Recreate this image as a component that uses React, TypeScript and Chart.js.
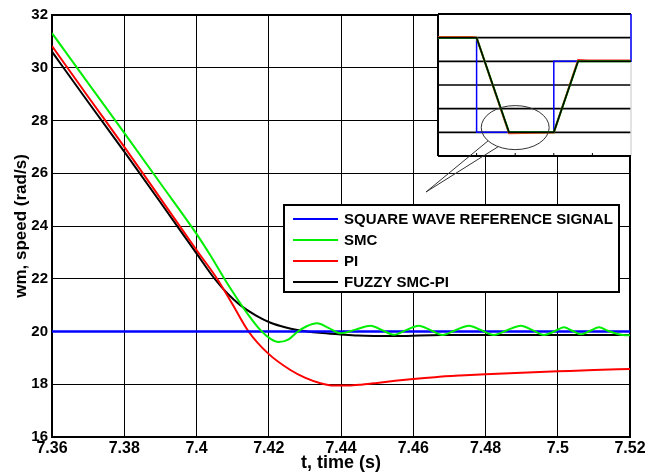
import React, { useEffect, useRef } from 'react';
import { Chart, registerables } from 'chart.js';

Chart.register(...registerables);

// ---------- main chart data ----------
const refTime = [7.36, 7.52];
const refSpeed = [20, 20];

const smcTime = [7.36, 7.37, 7.38, 7.39, 7.4, 7.404, 7.4075, 7.411, 7.4145, 7.4177, 7.4205, 7.4227, 7.4255, 7.4279, 7.4305, 7.4334, 7.4365, 7.4399, 7.444, 7.4482, 7.4514, 7.4546, 7.458, 7.4615, 7.4648, 7.4681, 7.4717, 7.4754, 7.4788, 7.4823, 7.486, 7.4898, 7.493, 7.4962, 7.499, 7.5017, 7.504, 7.5064, 7.509, 7.5114, 7.514, 7.518, 7.52];
const smcSpeed = [31.31, 29.42, 27.53, 25.62, 23.7, 22.85, 22.05, 21.3, 20.6, 20.05, 19.72, 19.6, 19.7, 19.98, 20.2, 20.31, 20.14, 19.93, 20.07, 20.22, 20.05, 19.88, 20.05, 20.22, 20.05, 19.87, 20.05, 20.22, 20.05, 19.87, 20.05, 20.22, 20.05, 19.87, 20.0, 20.16, 20.03, 19.9, 20.03, 20.16, 20.02, 19.87, 19.86];

const piTime = [7.36, 7.37, 7.38, 7.39, 7.4, 7.4057, 7.41, 7.4144, 7.4198, 7.426, 7.43, 7.4343, 7.438, 7.442, 7.446, 7.45, 7.455, 7.46, 7.466, 7.473, 7.48, 7.49, 7.5, 7.51, 7.52];
const piSpeed = [30.82, 28.9, 27.0, 25.05, 23.09, 22.0, 21.02, 20.0, 19.17, 18.54, 18.25, 18.04, 17.95, 17.95, 17.99, 18.05, 18.13, 18.2, 18.27, 18.33, 18.38, 18.44, 18.49, 18.54, 18.58];

const fuzzyTime = [7.36, 7.37, 7.38, 7.39, 7.4, 7.405, 7.4085, 7.4121, 7.4165, 7.4205, 7.4245, 7.4279, 7.434, 7.4399, 7.4446, 7.4557, 7.4676, 7.49, 7.52];
const fuzzySpeed = [30.61, 28.7, 26.82, 24.9, 22.96, 22.0, 21.45, 21.0, 20.6, 20.33, 20.16, 20.06, 19.95, 19.89, 19.85, 19.83, 19.87, 19.87, 19.87];

const seriesLabels = ['SQUARE WAVE REFERENCE SIGNAL', 'SMC', 'PI', 'FUZZY SMC-PI'];

const xTicks = [7.36, 7.38, 7.4, 7.42, 7.44, 7.46, 7.48, 7.5, 7.52];
const xTickLabels = ['7.36', '7.38', '7.4', '7.42', '7.44', '7.46', '7.48', '7.5', '7.52'];
const yTicks = [16, 18, 20, 22, 24, 26, 28, 30, 32];
const yTickLabels = ['16', '18', '20', '22', '24', '26', '28', '30', '32'];

// ---------- inset (zoomed detail) data ----------
const insetRefX = [0, 1, 1, 3, 3, 5, 5];
const insetRefY = [5, 5, 1, 1, 4, 4, 6];
const insetSmcX = [0, 1, 1.84, 3, 3.63, 5];
const insetSmcY = [5, 5, 1, 1, 4, 4];
const insetPiX = [0, 0.9, 1, 1.84, 2.2, 3, 3.63, 3.9, 5];
const insetPiY = [5.03, 5.03, 5.0, 0.96, 0.97, 0.99, 4.06, 4.04, 4.03];
const insetFuzzyX = [0, 1, 1.84, 3, 3.63, 5];
const insetFuzzyY = [5, 5, 1, 1, 4, 4];
const insetGridY = [1, 2, 3, 4, 5];
const insetTickX = [1, 2, 3, 4];
const insetEllipse = { x: 2.0, y: 1.2, rx: 0.88, ry: 0.93 };
const insetCalloutTip = { x: -0.31, y: -1.52 };
const insetCalloutAngles = [143, 120];

const FONT = "'Liberation Sans', Arial, Helvetica, sans-serif";

const pts = (xs: number[], ys: number[]) => xs.map((x, i) => ({ x, y: ys[i] }));

const boxLegend = {
  id: 'boxLegend',
  afterDatasetsDraw(chart: any) {
    const { ctx, chartArea: a } = chart;
    const left = a.left + 232;
    const top = a.top + 190;
    const w = 335;
    const h = 87;
    ctx.save();
    ctx.fillStyle = '#fff';
    ctx.fillRect(left, top, w, h);
    ctx.strokeStyle = '#000';
    ctx.lineWidth = 2;
    ctx.strokeRect(left, top, w, h);
    ctx.font = `bold 15px ${FONT}`;
    ctx.textBaseline = 'middle';
    ctx.textAlign = 'left';
    chart.data.datasets.forEach((ds: any, i: number) => {
      const ry = top + 14 + i * 21;
      ctx.strokeStyle = ds.borderColor;
      ctx.lineWidth = 2;
      ctx.beginPath();
      ctx.moveTo(left + 9, ry);
      ctx.lineTo(left + 54, ry);
      ctx.stroke();
      ctx.fillStyle = '#000';
      ctx.fillText(ds.label, left + 60, ry + 1);
    });
    ctx.restore();
  },
};

const insetFrame = {
  id: 'insetFrame',
  beforeDatasetsDraw(chart: any) {
    const { ctx, chartArea: a, scales } = chart;
    const xs = scales.x;
    const ys = scales.y;
    const line = (x1: number, y1: number, x2: number, y2: number) => {
      ctx.beginPath();
      ctx.moveTo(x1, y1);
      ctx.lineTo(x2, y2);
      ctx.stroke();
    };
    ctx.save();
    ctx.fillStyle = '#fff';
    ctx.fillRect(a.left, a.top, a.right - a.left, a.bottom - a.top);
    ctx.strokeStyle = '#000';
    ctx.lineWidth = 1.6;
    insetGridY.forEach((v) => {
      const py = ys.getPixelForValue(v);
      line(a.left, py, a.right, py);
    });
    ctx.lineWidth = 1;
    insetTickX.forEach((v) => {
      const px = xs.getPixelForValue(v);
      line(px, a.bottom, px, a.bottom - 3);
    });
    ctx.strokeStyle = '#d8d8d8';
    ctx.lineWidth = 1.5;
    line(a.right, a.top, a.right, a.bottom);
    ctx.strokeStyle = '#000';
    ctx.lineWidth = 2;
    line(a.left, a.top, a.left, a.bottom);
    line(a.left, a.bottom, a.right, a.bottom);
    line(a.left, a.top, a.right, a.top);
    ctx.restore();
  },
  afterDatasetsDraw(chart: any) {
    const { ctx, scales } = chart;
    const xs = scales.x;
    const ys = scales.y;
    const cx = xs.getPixelForValue(insetEllipse.x);
    const cy = ys.getPixelForValue(insetEllipse.y);
    const rx = Math.abs(xs.getPixelForValue(insetEllipse.x + insetEllipse.rx) - cx);
    const ry = Math.abs(ys.getPixelForValue(insetEllipse.y + insetEllipse.ry) - cy);
    const tx = xs.getPixelForValue(insetCalloutTip.x);
    const ty = ys.getPixelForValue(insetCalloutTip.y);
    ctx.save();
    ctx.strokeStyle = '#333';
    ctx.lineWidth = 1;
    ctx.beginPath();
    ctx.ellipse(cx, cy, rx, ry, 0, 0, Math.PI * 2);
    ctx.stroke();
    insetCalloutAngles.forEach((deg) => {
      const r = (deg * Math.PI) / 180;
      ctx.beginPath();
      ctx.moveTo(cx + rx * Math.cos(r), cy + ry * Math.sin(r));
      ctx.lineTo(tx, ty);
      ctx.stroke();
    });
    ctx.restore();
  },
};

export default function App() {
  const mainRef = useRef<HTMLCanvasElement>(null);
  const insetRef = useRef<HTMLCanvasElement>(null);

  useEffect(() => {
    document.body.style.margin = '0';
    Chart.defaults.color = '#000';
    const edgeWidth = (n: number) => (c: any) => (c.index === 0 || c.index === n - 1 ? 2 : 1);

    const main = new Chart(mainRef.current as HTMLCanvasElement, {
      type: 'line',
      data: {
        datasets: [
          { label: seriesLabels[0], data: pts(refTime, refSpeed), borderColor: '#0000ff', borderWidth: 2.5, order: 1 },
          { label: seriesLabels[1], data: pts(smcTime, smcSpeed), borderColor: '#00ee00', borderWidth: 2, order: 0, cubicInterpolationMode: 'monotone' },
          { label: seriesLabels[2], data: pts(piTime, piSpeed), borderColor: '#ff0000', borderWidth: 2, order: 2, cubicInterpolationMode: 'monotone' },
          { label: seriesLabels[3], data: pts(fuzzyTime, fuzzySpeed), borderColor: '#000000', borderWidth: 2, order: 3, cubicInterpolationMode: 'monotone' },
        ] as any,
      },
      options: {
        animation: false,
        responsive: false,
        maintainAspectRatio: false,
        layout: { padding: { left: 0, right: 32, top: 15, bottom: 0 } },
        elements: { point: { radius: 0 } },
        plugins: { legend: { display: false }, tooltip: { enabled: false } },
        scales: {
          x: {
            type: 'linear',
            min: 7.36,
            max: 7.52,
            afterBuildTicks: (s: any) => {
              s.ticks = xTicks.map((v) => ({ value: v }));
            },
            afterFit: (s: any) => {
              s.height = 35;
            },
            ticks: {
              callback: (_v: any, i: number) => xTickLabels[i],
              color: '#000',
              font: { family: FONT, size: 16, weight: 'bold' },
              padding: 2,
              maxRotation: 0,
              autoSkip: false,
            },
            grid: { color: '#000', lineWidth: edgeWidth(xTicks.length), drawTicks: false },
            border: { display: true, color: '#000', width: 2 },
            title: {
              display: true,
              text: 't, time (s)',
              color: '#000',
              font: { family: FONT, size: 18, weight: 'bold', lineHeight: 1 },
              padding: 0,
            },
          },
          y: {
            type: 'linear',
            min: 16,
            max: 32,
            afterBuildTicks: (s: any) => {
              s.ticks = yTicks.map((v) => ({ value: v }));
            },
            afterFit: (s: any) => {
              s.width = 52;
            },
            ticks: {
              callback: (_v: any, i: number) => yTickLabels[i],
              color: '#000',
              font: { family: FONT, size: 15, weight: 'bold' },
              padding: 4,
              autoSkip: false,
            },
            grid: { color: '#000', lineWidth: edgeWidth(yTicks.length), drawTicks: false },
            border: { display: true, color: '#000', width: 2 },
            title: {
              display: true,
              text: 'wm, speed (rad/s)',
              color: '#000',
              font: { family: FONT, size: 17, weight: 'bold', lineHeight: 1.2 },
              padding: { top: 11, bottom: 0 },
            },
          },
        },
      } as any,
      plugins: [boxLegend],
    });

    const inset = new Chart(insetRef.current as HTMLCanvasElement, {
      type: 'line',
      data: {
        datasets: [
          { data: pts(insetRefX, insetRefY), borderColor: '#0000ff', borderWidth: 1.5, order: 3, clip: 3 },
          { data: pts(insetPiX, insetPiY), borderColor: '#ff2020', borderWidth: 2, order: 2, clip: 3 },
          { data: pts(insetSmcX, insetSmcY), borderColor: '#00cc00', borderWidth: 2, order: 1, clip: 3 },
          { data: pts(insetFuzzyX, insetFuzzyY), borderColor: '#000000', borderWidth: 1.5, order: 0, clip: 3 },
        ] as any,
      },
      options: {
        animation: false,
        responsive: false,
        maintainAspectRatio: false,
        layout: { padding: { left: 38, right: 31, top: 14, bottom: 64 } },
        elements: { point: { radius: 0 }, line: { tension: 0 } },
        plugins: { legend: { display: false }, tooltip: { enabled: false } },
        scales: {
          x: { type: 'linear', min: 0, max: 5, display: false },
          y: { type: 'linear', min: 0, max: 6, display: false },
        },
      } as any,
      plugins: [insetFrame],
    });

    return () => {
      main.destroy();
      inset.destroy();
    };
  }, []);

  return (
    <div style={{ position: 'relative', width: 662, height: 472, background: '#fff' }}>
      <canvas
        ref={mainRef}
        width={662}
        height={472}
        style={{ position: 'absolute', left: 0, top: 0, width: 662, height: 472 }}
      />
      <canvas
        ref={insetRef}
        width={262}
        height={220}
        style={{ position: 'absolute', left: 400, top: 0, width: 262, height: 220 }}
      />
    </div>
  );
}
